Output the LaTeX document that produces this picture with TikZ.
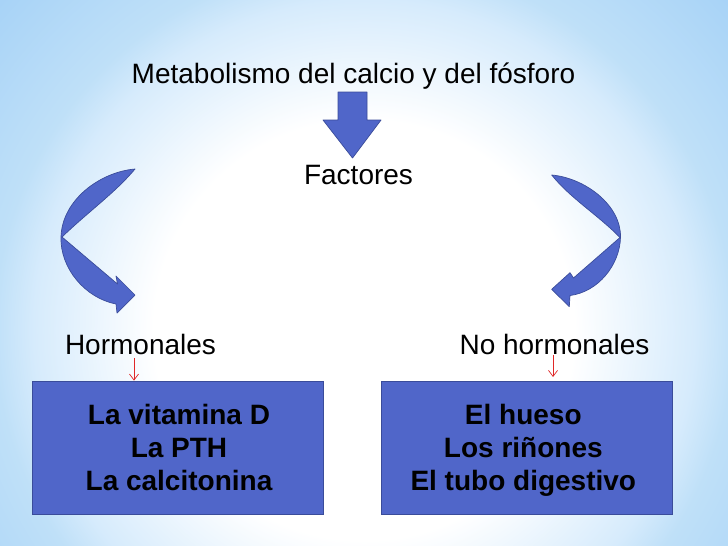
\documentclass[tikz,border=0pt]{standalone}
\usepackage{fontspec}
\setmainfont{Liberation Sans}
\usetikzlibrary{arrows.meta}
\definecolor{boxblue}{HTML}{5066C9}
\definecolor{edgeblue}{HTML}{3A4C9A}
\definecolor{bgA}{HTML}{D6EBFC}
\definecolor{bgB}{HTML}{BFE0F8}
\definecolor{bgC}{HTML}{A6D2F7}
\definecolor{redline}{HTML}{E02828}
\pgfdeclareradialshading{slidebg}{\pgfpoint{0bp}{0bp}}{color(0bp)=(white); color(10.5bp)=(white); color(16.5bp)=(bgA); color(18.5bp)=(bgB); color(25bp)=(bgC); color(50bp)=(bgC)}
\begin{document}
\begin{tikzpicture}[x=1pt,y=-1pt,
  txt/.style={font=\fontsize{28}{34}\selectfont, inner sep=0pt, anchor=base},
  bluebox/.style={draw=edgeblue, fill=boxblue, line width=0.8pt, minimum width=291pt, minimum height=133pt, inner sep=0pt},
  boxtxt/.style={inner sep=0pt, align=center, font=\bfseries\fontsize{28}{33}\selectfont},
  shapefill/.style={draw=edgeblue, fill=boxblue, line width=0.7pt, line join=round},
  redarrow/.style={draw=redline, line width=0.7pt, -{Straight Barb[length=6pt,width=9pt]}}]
\useasboundingbox (0,0) rectangle (728,546);
\begin{scope}
\clip (0,0) rectangle (728,546);
\shade[shading=slidebg] (-136,-170) rectangle (864,830);
\end{scope}

% texts
\node[txt] (title) at (353.5,83) {Metabolismo del calcio y del fósforo};
\node[txt] (factores) at (358.5,184) {Factores};
\node[txt] (horm) at (140.5,354) {Hormonales};
\node[txt] (nohorm) at (554.5,354) {No hormonales};

% down arrow
\path[shapefill] (338,92) -- (367,92) -- (367,120) -- (381,120) -- (352.5,158) -- (323,120) -- (338,120) -- cycle;

% left curved arrow
\path[shapefill] (135,169) .. controls (100,172) and (62,200) .. (61,237)
  .. controls (60,268) and (85,298) .. (116,304)
  -- (117,313) -- (135,295) -- (116,276) -- (117.5,284)
  -- (62,237) .. controls (88,212) and (116,192) .. (135,169) -- cycle;

% right curved arrow
\path[shapefill] (551.7,175) .. controls (585,178) and (621,205) .. (620.5,237)
  .. controls (620,265) and (598,292) .. (570,295.5)
  -- (569.3,306.7) -- (551.7,289.3) -- (570,272.7) -- (573.5,278)
  -- (620,237.5) .. controls (598,215) and (570,198) .. (551.7,175) -- cycle;

% boxes
\node[bluebox] (hbox) at (177.5,447.5) {};
\node[bluebox] (nhbox) at (527,447.5) {};
\node[boxtxt] (htext) at (179,450.5) {\strut La vitamina D\\La PTH\\La calcitonina\strut};
\node[boxtxt] (nhtext) at (523.3,450.5) {\strut El hueso\\Los riñones\\El tubo digestivo\strut};

% small red arrows
\coordinate (hs) at (134,358);
\draw[redarrow] (hs) -- (hs |- hbox.north);
\coordinate (ns) at (553,355);
\coordinate (ne) at (553,377);
\draw[redarrow] (ns) -- (ne);
\end{tikzpicture}
\end{document}
